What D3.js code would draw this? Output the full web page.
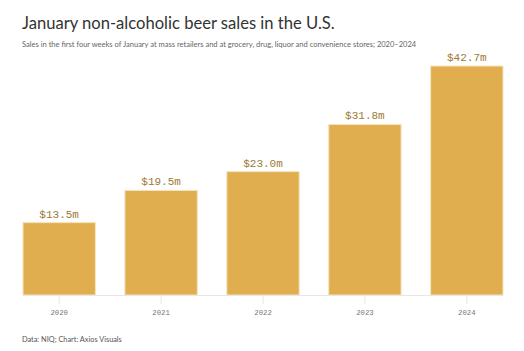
<!DOCTYPE html>
<html>
<head>
<meta charset="utf-8">
<script src="https://cdn.jsdelivr.net/npm/d3@7"></script>
<style>
  body { margin: 0; background: #fff; }
  text { font-family: Lato, Inter, "Noto Sans", sans-serif; }
  .mono { font-family: "Liberation Mono", "DejaVu Sans Mono", monospace; }
</style>
</head>
<body>
<div id="chart"></div>
<script>
// --- données ---
const annees = ["2020", "2021", "2022", "2023", "2024"];
const ventes = [13.5, 19.5, 23.0, 31.8, 42.7];
const etiquettes = ["$13.5m", "$19.5m", "$23.0m", "$31.8m", "$42.7m"];

const largeur = 524, hauteur = 351;
const svg = d3.select("#chart").append("svg")
  .attr("width", largeur).attr("height", hauteur);

// ajuste la taille de police pour atteindre une largeur cible
function ajuster(sel, cible) {
  const w = sel.node().getComputedTextLength();
  const fs = +sel.attr("font-size");
  sel.attr("font-size", fs * cible / w);
}

// titre + sous-titre
svg.append("text").attr("x", 22).attr("y", 29)
  .attr("font-size", 18).attr("fill", "#333")
  .text("January non-alcoholic beer sales in the U.S.")
  .call(ajuster, 313);
svg.append("text").attr("x", 22).attr("y", 47)
  .attr("font-size", 7).attr("fill", "#666")
  .text("Sales in the first four weeks of January at mass retailers and at grocery, drug, liquor and convenience stores; 2020–2024")
  .call(ajuster, 395);

// échelles
const x = d3.scaleBand().domain(annees).range([23, 503]).paddingInner(0.29).paddingOuter(0);
const y = d3.scaleLinear().domain([0, 42.7]).range([295, 66]);

const donnees = annees.map((a, i) => ({ annee: a, v: ventes[i], lab: etiquettes[i] }));

// barres
svg.append("g").selectAll("rect").data(donnees).join("rect")
  .attr("x", d => x(d.annee))
  .attr("y", d => y(d.v))
  .attr("width", x.bandwidth())
  .attr("height", d => y(0) - y(d.v))
  .attr("fill", "#e1ae4f")
  .attr("stroke", "#f6e3bd")
  .attr("stroke-width", 1);

// étiquettes de valeur
svg.append("g").selectAll("text").data(donnees).join("text")
  .attr("class", "mono")
  .attr("x", d => x(d.annee) + x.bandwidth() / 2)
  .attr("y", d => y(d.v) - 5)
  .attr("text-anchor", "middle")
  .attr("font-size", 11)
  .attr("fill", "#9b7a35")
  .text(d => d.lab);

// axe x
const axe = svg.append("g").attr("transform", "translate(0,295)")
  .call(d3.axisBottom(x).tickSize(9).tickPadding(6));
axe.select(".domain").attr("stroke", "#e6e6e6").attr("d", "M23,0.5H503");
axe.selectAll(".tick line").attr("stroke", "#e6e6e6");
axe.selectAll(".tick text").attr("class", "mono").attr("font-size", 7.3).attr("fill", "#777");

// source
svg.append("text").attr("x", 22).attr("y", 342)
  .attr("font-size", 8).attr("fill", "#555")
  .text("Data: NIQ; Chart: Axios Visuals")
  .call(ajuster, 100);
</script>
</body>
</html>
